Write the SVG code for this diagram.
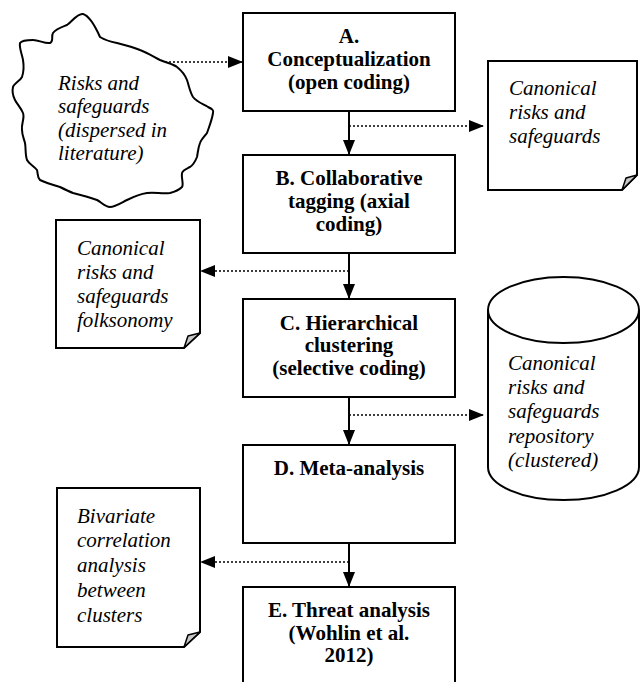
<svg xmlns="http://www.w3.org/2000/svg" width="641" height="682" viewBox="0 0 641 682">
<defs>
<style>
.box{fill:#fff;stroke:#000;stroke-width:2}
.shape{fill:#fff;stroke:#000;stroke-width:2}
.fold{fill:#c8c8c8;stroke:#000;stroke-width:1.5;stroke-linejoin:round}
.b{font-family:'Liberation Serif','Times New Roman',serif;font-weight:bold;font-size:21px;text-anchor:middle;fill:#000}
.i{font-family:'Liberation Serif','Times New Roman',serif;font-style:italic;font-size:21px;fill:#000}
.solid{stroke:#000;stroke-width:2;fill:none}
.dot{stroke:#000;stroke-width:1.6;stroke-dasharray:2,2;fill:none}
</style>
<marker id="ah" viewBox="0 0 15 12" refX="15" refY="6" markerWidth="15" markerHeight="12" orient="auto" markerUnits="userSpaceOnUse">
<path d="M0,0 L15,6 L0,12 z" fill="#000"/>
</marker>
</defs>
<rect width="641" height="682" fill="#fff"/>

<g id="cloud">
<path class="shape" d="M83,14 C90,16 96,28 100,37 C105,40 112,42 117,43 C125,45 133,47 140,50 C148,53 154,57 160,60 C167,63 173,64 177,67 C182,71 185,75 187,80 C189,86 190,92 193,97 C197,102 203,104 208,107 C212,109 214,110 213,113 C212,120 209,127 207,133 C204,137 201,140 200,143 C198,148 198,152 197,157 C195,162 193,165 190,167 C186,169 183,170 182,173 C181,178 184,184 182,187 C178,191 174,192 170,193 C162,194 155,192 147,193 C140,194 133,197 127,200 C121,203 115,207 110,207 C105,207 101,202 97,200 C89,197 81,195 73,193 C68,191 64,189 60,187 C53,185 46,183 40,180 C37,177 38,173 37,170 C34,166 29,164 27,160 C25,154 26,148 25,143 C24,139 22,135 22,130 C21,124 25,118 23,113 C21,108 17,104 15,100 C13,96 12,91 13,87 C14,83 20,81 22,77 C24,71 24,66 23,60 C22,54 19,48 20,43 C22,40 28,40 33,40 C39,40 45,44 50,43 C54,41 51,36 53,33 C56,29 62,27 67,25 C72,22 77,13 83,14 Z"/>
<text class="i" x="58" y="90">Risks and</text>
<text class="i" x="58" y="113">safeguards</text>
<text class="i" x="58" y="137">(dispersed in</text>
<text class="i" x="58" y="160">literature)</text>
</g>

<g id="A">
<rect class="box" x="243" y="13" width="212" height="98"/>
<text class="b" x="349" y="43">A.</text>
<text class="b" x="349" y="66">Conceptualization</text>
<text class="b" x="349" y="89">(open coding)</text>
</g>

<g id="note1">
<path class="shape" d="M488,61 L637,61 L637,175 L622,190 L488,190 Z"/>
<path class="fold" d="M622,190 L637,175 L626,178 Z"/>
<text class="i" x="509" y="95">Canonical</text>
<text class="i" x="509" y="119">risks and</text>
<text class="i" x="509" y="143">safeguards</text>
</g>

<g id="B">
<rect class="box" x="243" y="155" width="212" height="98"/>
<text class="b" x="349" y="185">B. Collaborative</text>
<text class="b" x="349" y="208">tagging (axial</text>
<text class="b" x="349" y="231">coding)</text>
</g>

<g id="note2">
<path class="shape" d="M56,220 L200,220 L200,333 L184,348 L56,348 Z"/>
<path class="fold" d="M184,348 L200,333 L188,336 Z"/>
<text class="i" x="77" y="255">Canonical</text>
<text class="i" x="77" y="279">risks and</text>
<text class="i" x="77" y="303">safeguards</text>
<text class="i" x="77" y="327">folksonomy</text>
</g>

<g id="C">
<rect class="box" x="243" y="299" width="212" height="98"/>
<text class="b" x="349" y="330">C. Hierarchical</text>
<text class="b" x="349" y="352">clustering</text>
<text class="b" x="349" y="375">(selective coding)</text>
</g>

<g id="repo">
<path class="shape" d="M488,310 L488,467 A75.5,33 0 0 0 639,467 L639,310"/>
<ellipse class="shape" cx="563.5" cy="310" rx="75.5" ry="33"/>
<text class="i" x="508" y="370">Canonical</text>
<text class="i" x="508" y="394">risks and</text>
<text class="i" x="508" y="418">safeguards</text>
<text class="i" x="508" y="443">repository</text>
<text class="i" x="508" y="467">(clustered)</text>
</g>

<g id="D">
<rect class="box" x="243" y="445" width="212" height="98"/>
<text class="b" x="349" y="475">D. Meta-analysis</text>
</g>

<g id="note3">
<path class="shape" d="M57,488 L200,488 L200,632 L184,647 L57,647 Z"/>
<path class="fold" d="M184,647 L200,632 L188,635 Z"/>
<text class="i" x="77" y="523">Bivariate</text>
<text class="i" x="77" y="547">correlation</text>
<text class="i" x="77" y="572">analysis</text>
<text class="i" x="77" y="597">between</text>
<text class="i" x="77" y="622">clusters</text>
</g>

<g id="E">
<rect class="box" x="243" y="587" width="212" height="120"/>
<text class="b" x="349" y="617">E. Threat analysis</text>
<text class="b" x="349" y="640">(Wohlin et al.</text>
<text class="b" x="349" y="662">2012)</text>
</g>

<g id="connectors">
<line class="dot" x1="165" y1="62" x2="243" y2="62" marker-end="url(#ah)"/>
<line class="solid" x1="349" y1="111" x2="349" y2="155" marker-end="url(#ah)"/>
<line class="dot" x1="349" y1="126" x2="484" y2="126" marker-end="url(#ah)"/>
<line class="solid" x1="349" y1="253" x2="349" y2="299" marker-end="url(#ah)"/>
<line class="dot" x1="349" y1="271" x2="200" y2="271" marker-end="url(#ah)"/>
<line class="solid" x1="349" y1="397" x2="349" y2="445" marker-end="url(#ah)"/>
<line class="dot" x1="349" y1="415" x2="484" y2="415" marker-end="url(#ah)"/>
<line class="solid" x1="349" y1="543" x2="349" y2="587" marker-end="url(#ah)"/>
<line class="dot" x1="349" y1="562" x2="200" y2="562" marker-end="url(#ah)"/>
</g>
</svg>
